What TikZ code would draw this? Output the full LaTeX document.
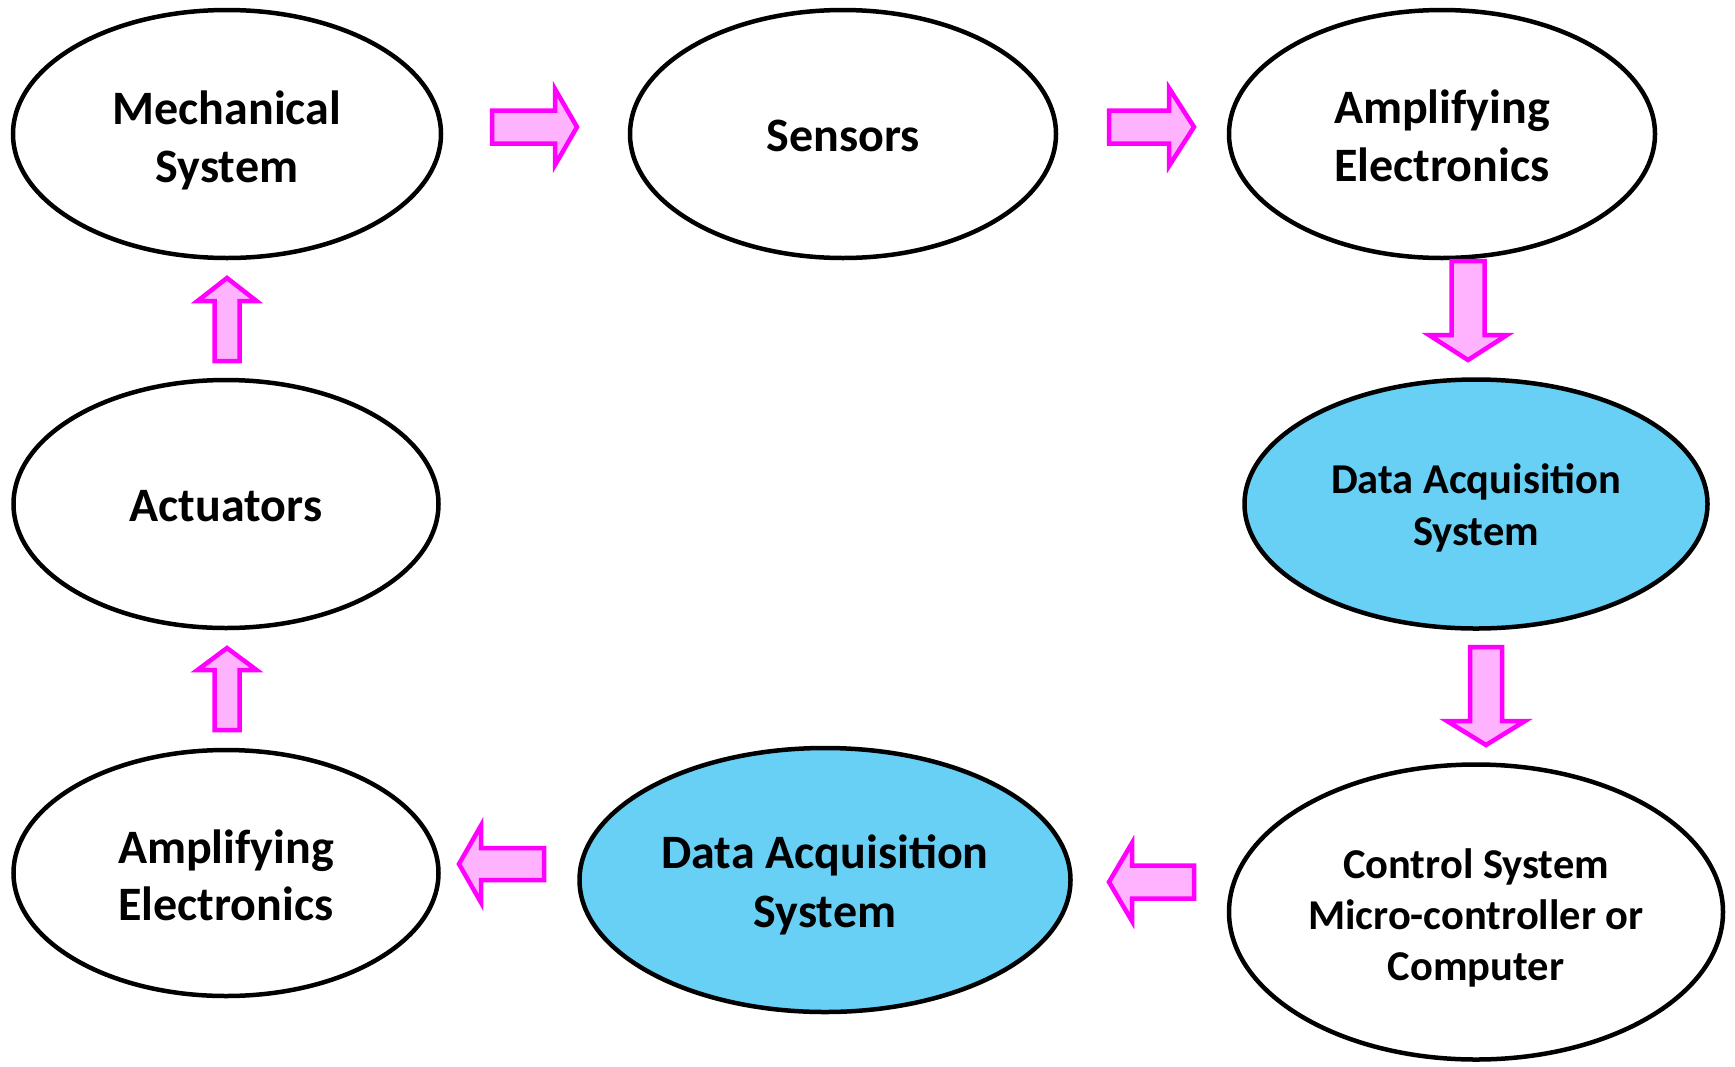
\documentclass[tikz,border=0pt]{standalone}
\usepackage{fontspec}
\setmainfont{Carlito}
\usetikzlibrary{shapes.geometric}

\definecolor{dasblue}{RGB}{104,207,245}
\definecolor{arrowedge}{RGB}{255,0,255}
\definecolor{arrowfill}{RGB}{255,179,255}

\tikzset{
  unit/.style={ellipse, draw=black, line width=4.5pt, fill=white, inner sep=0pt},
  daq/.style={unit, fill=dasblue},
  caption/.style={align=center, inner sep=0pt},
  blockarrow/.style={draw=arrowedge, fill=arrowfill, line width=4.5pt, line join=miter},
}
\newcommand{\fsize}[2]{\bfseries\fontsize{#1}{#2}\selectfont}
% block arrow: tip coordinate, direction, length, head length, shaft half-width, head half-width
\newcommand{\blockarrow}[6]{%
  \draw[blockarrow, shift={(#1)}, rotate=#2]
    (0,0) -- (-#4,#6) -- (-#4,#5) -- (-#3,#5) -- (-#3,-#5) -- (-#4,-#5) -- (-#4,-#6) -- cycle;}

\begin{document}
\begin{tikzpicture}[x=1pt,y=-1pt]
\useasboundingbox (0,0) rectangle (1735,1066);

% units of the loop
\node[unit, minimum width=428pt, minimum height=248pt,
  label={[caption, font=\fsize{48}{58}, yshift=-6pt]center:{Mechanical\\System}}] (mech) at (227,134) {};
\node[unit, minimum width=426pt, minimum height=248pt,
  label={[caption, font=\fsize{48}{58}, yshift=-2pt]center:{Sensors}}] (sens) at (843,134) {};
\node[unit, minimum width=426pt, minimum height=248pt,
  label={[caption, font=\fsize{48}{58}, yshift=-2pt]center:{Amplifying\\Electronics}}] (ampin) at (1442,134) {};
\node[daq, minimum width=463pt, minimum height=249pt,
  label={[caption, font=\fsize{42.5}{52}, yshift=-4pt]center:{Data Acquisition\\System}}] (daqin) at (1476,504) {};
\node[unit, minimum width=494pt, minimum height=295pt,
  label={[caption, font=\fsize{42.5}{51}, yshift=-6pt]center:{Control System\\Micro-controller or\\Computer}}] (ctrl) at (1476,912) {};
\node[daq, minimum width=491pt, minimum height=264pt,
  label={[caption, font=\fsize{48}{59}, yshift=-5pt]center:{Data Acquisition\\System}}] (daqout) at (825,880) {};
\node[unit, minimum width=425pt, minimum height=246pt,
  label={[caption, font=\fsize{48}{57}, yshift=-2pt]center:{Amplifying\\Electronics}}] (ampout) at (226,873) {};
\node[unit, minimum width=425pt, minimum height=248pt,
  label={[caption, font=\fsize{48}{58}, yshift=-2pt]center:{Actuators}}] (act) at (226,504) {};

% tips of the block arrows
\coordinate (t1) at (577,127);
\coordinate (t2) at (1194,127);
\coordinate (t3) at (1468,360);
\coordinate (t4) at (1486,745);
\coordinate (t5) at (1109,882);
\coordinate (t6) at (459,864);
\coordinate (t7) at (227,648);
\coordinate (t8) at (227,278);

\blockarrow{t1}{0}{85}{22}{16.5}{38}
\blockarrow{t2}{0}{85}{25}{16.5}{39}
\blockarrow{t3}{270}{99}{25}{16.5}{39}
\blockarrow{t4}{270}{98}{24}{16}{39}
\blockarrow{t5}{180}{85}{23}{16.5}{39}
\blockarrow{t6}{180}{85}{22}{16}{38.5}
\blockarrow{t7}{90}{82}{22}{12.5}{29.5}
\blockarrow{t8}{90}{83}{23}{12.5}{29.5}
\end{tikzpicture}
\end{document}
